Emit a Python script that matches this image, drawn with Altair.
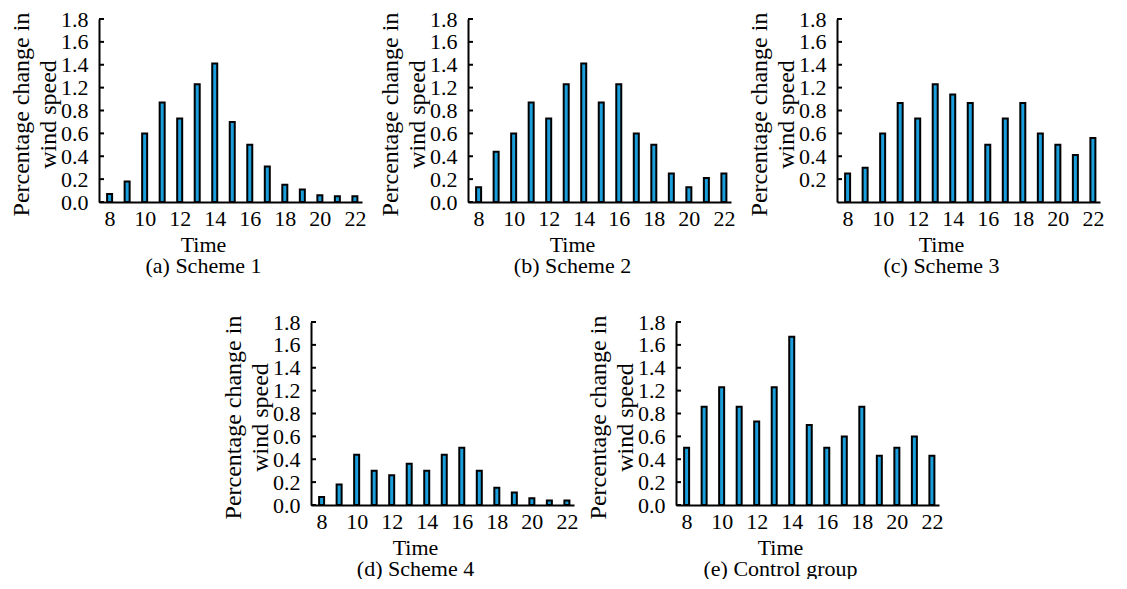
import altair as alt
import pandas as pd

HOURS = list(range(8, 23))
SCHEME1 = [0.07, 0.18, 0.60, 0.94, 0.73, 1.23, 1.41, 0.70, 0.50, 0.31, 0.15, 0.11, 0.06, 0.05, 0.05]
SCHEME2 = [0.13, 0.44, 0.60, 0.94, 0.73, 1.23, 1.41, 0.94, 1.23, 0.60, 0.50, 0.25, 0.13, 0.21, 0.25]
SCHEME3 = [0.25, 0.30, 0.60, 0.93, 0.73, 1.23, 1.08, 0.93, 0.50, 0.73, 0.93, 0.60, 0.50, 0.41, 0.56]
SCHEME4 = [0.07, 0.18, 0.44, 0.30, 0.26, 0.36, 0.30, 0.44, 0.50, 0.30, 0.15, 0.11, 0.06, 0.04, 0.04]
CONTROL = [0.50, 0.92, 1.23, 0.92, 0.73, 1.23, 1.67, 0.70, 0.50, 0.60, 0.92, 0.43, 0.50, 0.60, 0.43]

CAPTIONS = ["(a) Scheme 1", "(b) Scheme 2", "(c) Scheme 3", "(d) Scheme 4", "(e) Control group"]
Y_TICKS = [0.0, 0.2, 0.4, 0.6, 0.8, 1.2, 1.4, 1.6, 1.8]
Y_TICKS_NO_ZERO = [0.2, 0.4, 0.6, 0.8, 1.2, 1.4, 1.6, 1.8]
X_TICKS = [8, 10, 12, 14, 16, 18, 20, 22]
Y_TITLE = ["Percentage change in", "wind speed"]

W, H = 263, 183
FONT = "Liberation Serif"
BLUE = "#1a9fdc"


def panel(values, caption, yticks):
    df = pd.DataFrame({"Time": HOURS, "v": values})
    tdf = pd.DataFrame({"v": yticks})
    yscale = alt.Scale(domain=[0, 0.8, 1.2, 1.8], range=[H, H * 4 / 8, H * 3 / 8, 0],
                       nice=False, zero=False)
    xscale = alt.Scale(domain=[7.68, 22.12], nice=False, zero=False)
    yaxis = alt.Axis(values=yticks, format=".1f", title=Y_TITLE, ticks=False, grid=False,
                     labelPadding=11, labelOverlap=False,
                     titleX=-78, titleY=95, titleAngle=-90, titleBaseline="middle",
                     titleAlign="center", titleLineHeight=27, titleFontSize=24)
    bars = alt.Chart(df).mark_bar(size=5, color=BLUE, stroke="black", strokeWidth=2).encode(
        x=alt.X("Time:Q", scale=xscale,
                axis=alt.Axis(values=X_TICKS, title=["Time", caption], ticks=False, grid=False,
                              labelPadding=6, labelFlush=False, labelOverlap=False,
                              titleX=104, titleY=49, titleBaseline="alphabetic",
                              titleAlign="center", titleLineHeight=21)),
        y=alt.Y("v:Q", scale=yscale, axis=yaxis),
    )
    ticks = alt.Chart(tdf).mark_rule(color="black", strokeWidth=2).encode(
        y=alt.Y("v:Q", scale=yscale, axis=yaxis),
        x=alt.value(0),
        x2=alt.value(5),
    )
    return alt.layer(bars, ticks).properties(width=W, height=H)


spacer = alt.Chart(pd.DataFrame({"s": [0]})).mark_point(opacity=0).encode(
    x=alt.X("s:Q", axis=None), y=alt.Y("s:Q", axis=None)
).properties(width=110, height=H)

row1 = alt.hconcat(
    panel(SCHEME1, CAPTIONS[0], Y_TICKS),
    panel(SCHEME2, CAPTIONS[1], Y_TICKS),
    panel(SCHEME3, CAPTIONS[2], Y_TICKS_NO_ZERO),
    spacing=106, bounds="flush",
)
row2 = alt.hconcat(
    spacer,
    panel(SCHEME4, CAPTIONS[3], Y_TICKS),
    panel(CONTROL, CAPTIONS[4], Y_TICKS),
    spacing=102, bounds="flush",
)

chart = alt.vconcat(row1, row2, spacing=35).properties(
    padding={"left": 0, "top": 0, "right": 0, "bottom": 0}
).configure_view(stroke=None).configure_axis(
    labelFont=FONT, labelFontSize=22, labelColor="black",
    titleFont=FONT, titleFontSize=22, titleColor="black", titleFontWeight="normal",
    domainColor="black", domainWidth=2,
)

chart.save("out.html", embed_options={"renderer": "svg", "actions": False})
